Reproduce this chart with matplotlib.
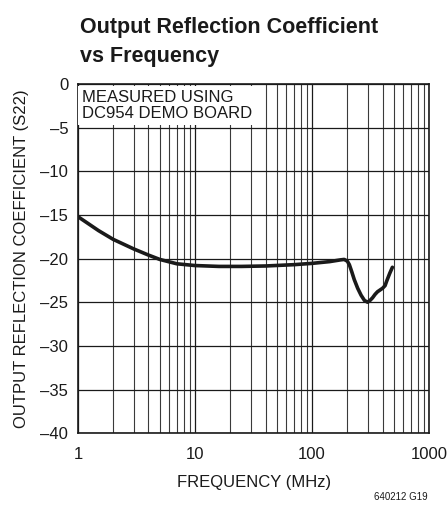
import numpy as np
import matplotlib
matplotlib.use('Agg')
import matplotlib.pyplot as plt
from matplotlib.ticker import LogLocator, NullFormatter

plt.rcParams['font.family'] = ['Liberation Sans', 'DejaVu Sans']

# 読み取った値 (周波数 MHz, S22 dB)
freq = [1, 1.5, 2, 3, 4, 5, 7, 10, 16, 25, 40, 70, 100, 141, 175, 188,
        200, 208, 218, 229, 245, 262, 280, 298, 312, 328, 345, 362, 400, 420, 433, 460, 485]
s22 = [-15.2, -16.8, -17.8, -18.9, -19.6, -20.1, -20.6, -20.8, -20.9, -20.9,
       -20.85, -20.7, -20.55, -20.35, -20.15, -20.1,
       -20.3, -20.7, -21.5, -22.4, -23.4, -24.2, -24.8, -25.0, -24.8, -24.5,
       -24.1, -23.8, -23.4, -23.1, -22.6, -21.7, -21.0]

yticks = [0, -5, -10, -15, -20, -25, -30, -35, -40]
xticks = [1, 10, 100, 1000]
xticklabels = ['1', '10', '100', '1000']

fig = plt.figure(figsize=(4.48, 5.12), dpi=100)
ax = fig.add_axes([0.174, 0.154, 0.784, 0.682])

ax.plot(freq, s22, color='#1a1a1a', lw=2.6, solid_capstyle='round',
        solid_joinstyle='round', zorder=4)

ax.set_xscale('log')
ax.set_xlim(1, 1000)
ax.set_ylim(-40, 0)
ax.set_xticks(xticks)
ax.set_xticklabels(xticklabels)
ax.xaxis.set_minor_locator(LogLocator(base=10, subs=np.arange(2, 10)))
ax.xaxis.set_minor_formatter(NullFormatter())
ax.set_yticks(yticks)
ax.set_yticklabels([str(v).replace('-', '\u2013') for v in yticks])

ax.grid(which='major', color='#1a1a1a', lw=0.9)
ax.grid(which='minor', axis='x', color='#3a3a3a', lw=0.8)
ax.tick_params(which='both', length=0, labelsize=12, colors='#1a1a1a')
ax.tick_params(axis='x', pad=10)
ax.tick_params(axis='y', pad=7)
for s in ax.spines.values():
    s.set_color('#1a1a1a')
    s.set_linewidth(1.2)

ax.set_xlabel('FREQUENCY (MHz)', fontsize=12, color='#1a1a1a', labelpad=9)
ax.set_ylabel('OUTPUT REFLECTION COEFFICIENT (S22)', fontsize=12, color='#1a1a1a', labelpad=8)

ax.text(1.08, -0.7, 'MEASURED USING\nDC954 DEMO BOARD', fontsize=12, va='top', ha='left',
        color='#1a1a1a', linespacing=1.05, zorder=5,
        bbox=dict(boxstyle='square,pad=0.25', fc='white', ec='none'))

fig.text(0.178, 0.967, 'Output Reflection Coefficient\nvs Frequency', fontsize=15.5,
         fontweight='bold', va='top', ha='left', color='#1a1a1a', linespacing=1.5)
fig.text(0.955, 0.02, '640212 G19', fontsize=7, ha='right', va='bottom', color='#1a1a1a')

fig.savefig('out.png', dpi=100)
